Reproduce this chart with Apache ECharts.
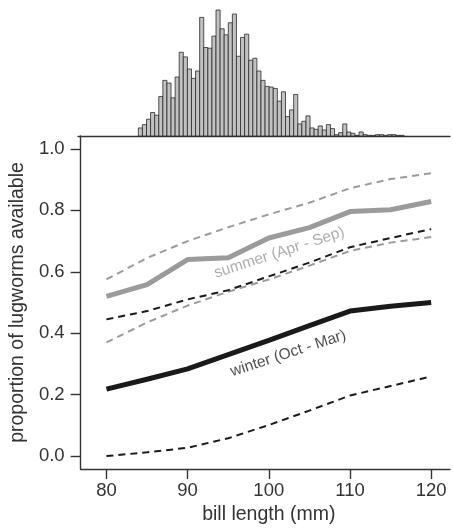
<!DOCTYPE html>
<html>
<head>
<meta charset="utf-8">
<script src="https://cdn.jsdelivr.net/npm/echarts@6/dist/echarts.min.js"></script>
<style>
html,body{margin:0;padding:0;background:#fff;}
#chart{width:453px;height:530px;}
</style>
</head>
<body>
<div id="chart"></div>
<script>
// ---- data ----
const billLength = [80, 85, 90, 95, 100, 105, 110, 115, 120];
const summerMean  = [0.52, 0.558, 0.64, 0.646, 0.71, 0.744, 0.796, 0.802, 0.829];
const summerUpper = [0.575, 0.645, 0.70, 0.745, 0.787, 0.825, 0.872, 0.902, 0.921];
const summerLower = [0.37, 0.435, 0.49, 0.535, 0.575, 0.62, 0.668, 0.695, 0.713];
const winterMean  = [0.218, 0.25, 0.284, 0.33, 0.377, 0.425, 0.472, 0.488, 0.50];
const winterUpper = [0.445, 0.472, 0.51, 0.54, 0.585, 0.63, 0.68, 0.71, 0.739];
const winterLower = [0.0, 0.012, 0.027, 0.058, 0.101, 0.148, 0.197, 0.228, 0.259];

// histogram of bill lengths (0.5 mm bins)
const histStart = 84.2;
const histBinWidth = 0.5;
const histCounts = [12, 17, 25, 35, 31, 59, 83, 79, 57, 88, 125, 118, 100, 86, 97, 177, 132, 131, 149, 188,
  160, 151, 169, 182, 119, 147, 152, 113, 116, 97, 83, 74, 73, 71, 52, 66, 29, 39, 62, 18,
  22, 30, 12, 10, 15, 9, 17, 11, 2, 5, 18, 6, 4, 1, 6, 2, 1, 1, 2, 2, 1, 2, 2, 1, 1];

const xTicks = [80, 90, 100, 110, 120];
const yTicks = [0, 0.2, 0.4, 0.6, 0.8, 1.0];

const summerLabel = {text: 'summer (Apr - Sep)', x: 101.3, y: 0.662};
const winterLabel = {text: 'winter (Oct - Mar)', x: 102.4, y: 0.334};

// ---- build ----
const pts = arr => billLength.map((x, i) => [x, arr[i]]);
const histData = histCounts.map((c, i) => [histStart + i * histBinWidth, histStart + (i + 1) * histBinWidth, c]);

const FONT = 'Liberation Sans, Arial, Helvetica, sans-serif';
const AX = '#333';
const XMIN = 76.82, XMAX = 122.32;

const chart = echarts.init(document.getElementById('chart'), null, {renderer: 'canvas'});

function line(name, arr, color, width, dashed, z) {
  return {
    type: 'line', name, xAxisIndex: 0, yAxisIndex: 0,
    data: pts(arr), showSymbol: false, symbol: 'none', smooth: false,
    lineStyle: {color, width, type: dashed ? [7, 5] : 'solid', cap: 'butt', join: 'round'},
    z, silent: true, animation: false
  };
}

chart.setOption({
  animation: false,
  backgroundColor: '#fff',
  textStyle: {fontFamily: FONT},
  grid: [
    {left: 78, right: 3, top: 136, bottom: 60},
    {left: 78, right: 3, top: 6, height: 130}
  ],
  xAxis: [
    {
      type: 'value', gridIndex: 0, min: XMIN, max: XMAX,
      axisLine: {show: true, onZero: false, lineStyle: {color: AX, width: 1.4}},
      axisTick: {show: true, inside: false, length: 10, customValues: xTicks, lineStyle: {color: AX, width: 1.4}},
      axisLabel: {show: true, customValues: xTicks, margin: 12, fontSize: 18.5, color: '#333', fontFamily: FONT},
      splitLine: {show: false},
      name: 'bill length (mm)', nameLocation: 'middle', nameGap: 36,
      nameTextStyle: {fontSize: 19.5, color: '#333', fontFamily: FONT, padding: [0, 0, 0, 7]}
    },
    {
      type: 'value', gridIndex: 1, min: XMIN, max: XMAX,
      axisLine: {show: true, onZero: false, lineStyle: {color: AX, width: 1.4}},
      axisTick: {show: false}, axisLabel: {show: false}, splitLine: {show: false}
    }
  ],
  yAxis: [
    {
      type: 'value', gridIndex: 0, min: -0.0422, max: 1.0422,
      axisLine: {show: true, onZero: false, lineStyle: {color: AX, width: 1.4}},
      axisTick: {show: true, inside: false, length: 10, customValues: yTicks, lineStyle: {color: AX, width: 1.4}},
      axisLabel: {show: true, customValues: yTicks, margin: 16, fontSize: 18.5, color: '#333', fontFamily: FONT,
        formatter: v => v.toFixed(1)},
      splitLine: {show: false},
      name: 'proportion of lugworms available', nameLocation: 'middle', nameGap: 50, nameRotate: 90,
      nameTextStyle: {fontSize: 19.5, color: '#333', fontFamily: FONT}
    },
    {
      type: 'value', gridIndex: 1, min: 0, max: 194, show: false
    }
  ],
  series: [
    {
      type: 'custom', xAxisIndex: 1, yAxisIndex: 1, data: histData, silent: true,
      encode: {x: [0, 1], y: 2},
      renderItem: function (params, api) {
        const a = api.coord([api.value(0), api.value(2)]);
        const b = api.coord([api.value(1), 0]);
        return {
          type: 'rect',
          shape: {x: a[0], y: a[1], width: b[0] - a[0], height: b[1] - a[1]},
          style: {fill: '#c2c2c2', stroke: '#2a2a2a', lineWidth: 0.8}
        };
      }
    },
    line('summer lower', summerLower, '#9b9b9b', 2, true, 2),
    line('summer upper', summerUpper, '#9b9b9b', 2, true, 2),
    line('summer', summerMean, '#9b9b9b', 5, false, 3),
    line('winter lower', winterLower, '#1a1a1a', 2, true, 4),
    line('winter upper', winterUpper, '#1a1a1a', 2, true, 4),
    line('winter', winterMean, '#1a1a1a', 5, false, 5),
    {
      type: 'scatter', xAxisIndex: 0, yAxisIndex: 0, symbolSize: 0, silent: true, z: 6,
      data: [[summerLabel.x, summerLabel.y]],
      label: {show: true, position: 'inside', formatter: summerLabel.text, rotate: 18,
        fontSize: 15.5, color: '#999', fontFamily: FONT}
    },
    {
      type: 'scatter', xAxisIndex: 0, yAxisIndex: 0, symbolSize: 0, silent: true, z: 6,
      data: [[winterLabel.x, winterLabel.y]],
      label: {show: true, position: 'inside', formatter: winterLabel.text, rotate: 18,
        fontSize: 15.5, color: '#222', fontFamily: FONT}
    }
  ]
});
</script>
</body>
</html>
